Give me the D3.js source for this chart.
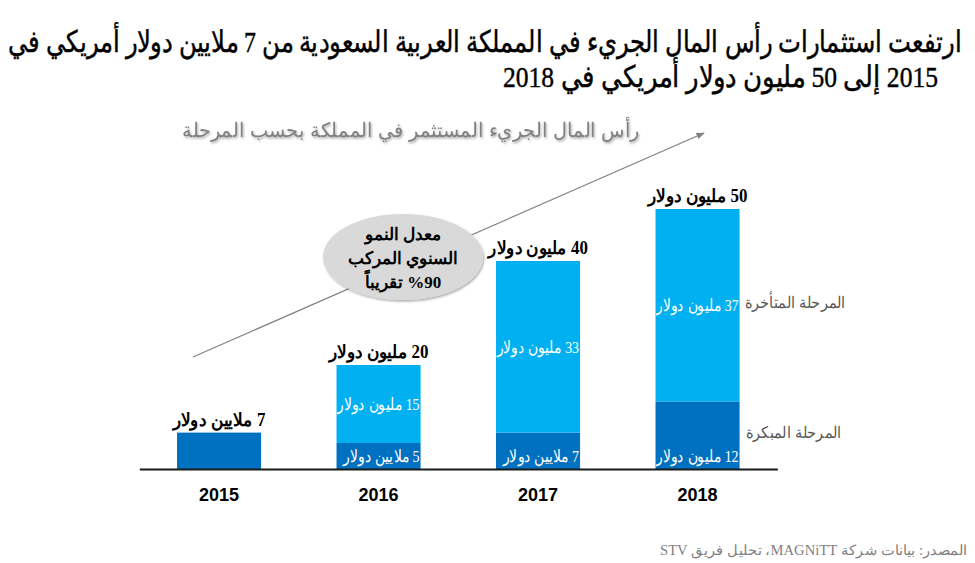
<!DOCTYPE html>
<html><head><meta charset="utf-8">
<script src="https://cdn.jsdelivr.net/npm/d3@7"></script>
<style>
html,body{margin:0;padding:0;background:#fff;}
svg{display:block;}
</style></head>
<body>
<svg id="chart" width="975" height="563"></svg>
<script>
const years = ["2015","2016","2017","2018"];
const earlyStage = [7, 5, 7, 13];
const lateStage = [0, 15, 33, 37];
const totalLabels = ["7 ملايين دولار","20 مليون دولار","40 مليون دولار","50 مليون دولار"];
const earlyLabels = ["","5 ملايين دولار","7 ملايين دولار","12 مليون دولار"];
const lateLabels = ["","15 مليون دولار","33 مليون دولار","37 مليون دولار"];
const titleLines = ["ارتفعت استثمارات رأس المال الجريء في المملكة العربية السعودية من 7 ملايين دولار أمريكي في","2015 إلى 50 مليون دولار أمريكي في 2018"];
const subtitle = "رأس المال الجريء المستثمر في المملكة بحسب المرحلة";
const cagrLines = ["معدل النمو","السنوي المركب","%90 تقريباً"];
const legendLabels = ["المرحلة المتأخرة","المرحلة المبكرة"];
const source = "المصدر: بيانات شركة MAGNiTT، تحليل فريق STV";

const colors = {early:"#0070c0", late:"#00b0f0"};
const svg = d3.select("#chart");

const x = d3.scaleBand().domain(years).range([139.3, 777.3]).paddingInner(0.473).paddingOuter(0.2365);
const y = d3.scaleLinear().domain([0, 50]).range([469, 209]);

const data = years.map((yr,i)=>({yr, early:earlyStage[i], late:lateStage[i], total:earlyStage[i]+lateStage[i], i}));

const serif = "'Liberation Serif','Times New Roman',serif";
const sans = "'Liberation Sans',Arial,sans-serif";

// title (rendered small, stretched to the reference widths, scaled vertically)
const titleBox = [{right:962, base:52, width:954},{right:938, base:87, width:435}];
const vs = 1.23;
svg.append("g").attr("transform",`scale(1,${vs})`).selectAll("text").data(titleLines).join("text")
  .attr("x",(d,i)=>titleBox[i].right).attr("y",(d,i)=>titleBox[i].base/vs)
  .attr("direction","rtl").attr("text-anchor","start")
  .attr("textLength",(d,i)=>titleBox[i].width).attr("lengthAdjust","spacingAndGlyphs")
  .style("font-family",serif).style("font-size","24px")
  .attr("fill","#000").attr("stroke","#000").attr("stroke-width",0.35).text(d=>d);

// defs
const defs = svg.append("defs");
const f = defs.append("filter").attr("id","sh").attr("x","-10%").attr("y","-10%").attr("width","120%").attr("height","140%");
f.append("feDropShadow").attr("dx",1).attr("dy",1.5).attr("stdDeviation",0.8).attr("flood-color","#000").attr("flood-opacity",0.35);
defs.append("marker").attr("id","arr").attr("viewBox","0 0 10 10").attr("refX",9).attr("refY",5)
  .attr("markerWidth",7).attr("markerHeight",7).attr("orient","auto")
  .append("path").attr("d","M0,1 L10,5 L0,9 Z").attr("fill","#808080");

// subtitle
svg.append("text").attr("x",640).attr("y",137)
  .attr("direction","rtl").attr("text-anchor","start")
  .attr("textLength",458).attr("lengthAdjust","spacingAndGlyphs")
  .style("font-family",sans).style("font-size","20px")
  .attr("fill","#7f7f7f").attr("filter","url(#sh)").text(subtitle);

// trend arrow
svg.append("line").attr("x1",193).attr("y1",357).attr("x2",704).attr("y2",133)
  .attr("stroke","#808080").attr("stroke-width",1.2).attr("marker-end","url(#arr)");

// bars
const g = svg.append("g");
g.selectAll("rect.early").data(data).join("rect").attr("class","early")
  .attr("x",d=>x(d.yr)).attr("width",x.bandwidth())
  .attr("y",d=>y(d.early)).attr("height",d=>y(0)-y(d.early)).attr("fill",colors.early);
g.selectAll("rect.late").data(data.filter(d=>d.late>0)).join("rect").attr("class","late")
  .attr("x",d=>x(d.yr)).attr("width",x.bandwidth())
  .attr("y",d=>y(d.total)).attr("height",d=>y(d.early)-y(d.total)).attr("fill",colors.late);

data.forEach(d=>{
  defs.append("clipPath").attr("id","clip"+d.i).append("rect")
    .attr("x",x(d.yr)).attr("width",x.bandwidth()).attr("y",y(d.total)).attr("height",y(0)-y(d.total));
});

function squeeze(sel, factor){
  sel.each(function(){
    const w = this.getComputedTextLength();
    d3.select(this).attr("textLength", w*factor).attr("lengthAdjust","spacingAndGlyphs");
  });
}

const lateT = g.selectAll("text.late").data(data.filter(d=>d.late>0)).join("text").attr("class","late")
  .attr("clip-path",d=>`url(#clip${d.i})`)
  .attr("x",d=>x(d.yr)+x.bandwidth()-1).attr("y",d=>(y(d.early)+y(d.total))/2+6)
  .attr("direction","rtl").attr("text-anchor","start")
  .style("font-family",serif).style("font-size","17px").attr("fill","#fff").text(d=>lateLabels[d.i]);
squeeze(lateT, 0.82);
const earlyT = g.selectAll("text.earlyl").data(data.filter(d=>earlyLabels[d.i])).join("text").attr("class","earlyl")
  .attr("clip-path",d=>`url(#clip${d.i})`)
  .attr("x",d=>x(d.yr)+x.bandwidth()-1).attr("y",y(0)-7)
  .attr("direction","rtl").attr("text-anchor","start")
  .style("font-family",serif).style("font-size","17px").attr("fill","#fff").text(d=>earlyLabels[d.i]);
squeeze(earlyT, 0.82);

// total labels
const totT = g.selectAll("text.total").data(data).join("text").attr("class","total")
  .attr("x",d=>x(d.yr)+x.bandwidth()/2).attr("y",d=>y(d.total)-7)
  .attr("direction","rtl").attr("text-anchor","middle")
  .style("font-family",serif).style("font-size","18px").style("font-weight","bold").attr("fill","#000")
  .text(d=>totalLabels[d.i]);
squeeze(totT, 0.94);

// axis
const axis = svg.append("g").attr("transform",`translate(0,${y(0)})`)
  .call(d3.axisBottom(x).tickSize(0).tickPadding(19).tickSizeOuter(0));
axis.select(".domain").attr("stroke","#1a1a1a").attr("stroke-width",2);
axis.selectAll("text").style("font-family",sans)
  .style("font-size","18px").style("font-weight","bold").attr("fill","#000");

// CAGR ellipse
svg.append("ellipse").attr("cx",403).attr("cy",257).attr("rx",80).attr("ry",43)
  .attr("fill","#d9d9d9").attr("filter","url(#sh)");
svg.append("g").selectAll("text").data(cagrLines).join("text")
  .attr("x",403).attr("y",(d,i)=>240+i*24)
  .attr("direction","rtl").attr("text-anchor","middle")
  .style("font-family",serif).style("font-size","17px").style("font-weight","bold").attr("fill","#000")
  .text(d=>d);

// legend labels
const legBox = [{right:845, base:308, width:100},{right:841, base:438, width:95}];
svg.append("g").selectAll("text").data(legendLabels).join("text")
  .attr("x",(d,i)=>legBox[i].right).attr("y",(d,i)=>legBox[i].base)
  .attr("direction","rtl").attr("text-anchor","start")
  .attr("textLength",(d,i)=>legBox[i].width).attr("lengthAdjust","spacingAndGlyphs")
  .style("font-family",sans).style("font-size","16px").attr("fill","#595959").text(d=>d);

// source
svg.append("text").attr("x",967).attr("y",555)
  .attr("direction","rtl").attr("text-anchor","start")
  .attr("textLength",307).attr("lengthAdjust","spacingAndGlyphs")
  .style("font-family",serif).style("font-size","14px").attr("fill","#7f7f7f").text(source);
</script>
</body></html>
